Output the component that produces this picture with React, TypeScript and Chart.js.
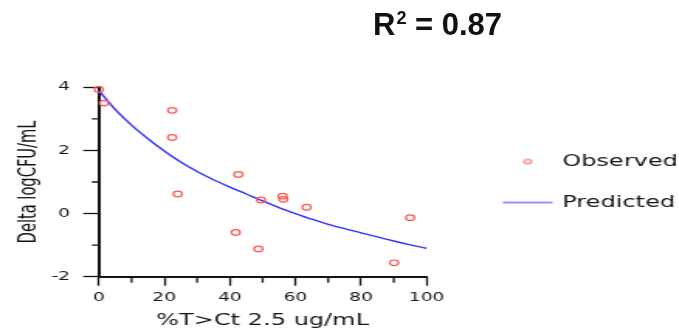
import React, { useEffect, useRef } from 'react';
import { Chart, registerables } from 'chart.js';

Chart.register(...registerables);

// ---- data ----
const obsX = [0, 1.6, 22.4, 22.4, 24.1, 41.8, 42.6, 48.7, 49.5, 56.1, 56.3, 63.4, 90.1, 95.0];
const obsY = [3.93, 3.5, 3.27, 2.41, 0.62, -0.6, 1.24, -1.12, 0.43, 0.55, 0.45, 0.2, -1.56, -0.13];

const predX = [0, 5, 10, 15, 20, 25, 30, 35, 40, 45, 50, 55, 60, 65, 70, 75, 80, 85, 90, 95, 100];
const predY = [3.9, 3.3, 2.8, 2.37, 1.98, 1.63, 1.33, 1.07, 0.84, 0.62, 0.4, 0.19, 0.0, -0.18, -0.34, -0.48, -0.61, -0.74, -0.87, -0.99, -1.1];

const seriesNames = ['Observed', 'Predicted'];
const xTitle = '%T>Ct 2.5 ug/mL';
const yTitle = 'Delta logCFU/mL';
const xMinorTicks = [10, 30, 50, 70, 90];
const yMinorTicks = [-1, 1, 3];

// ---- geometry ----
const SX = 1.55; // the reference is horizontally stretched
const W = 679;
const H = 336;
const CW = Math.round((W / SX) * 10) / 10;

const RED = 'rgb(255, 85, 85)';
const BLUE = 'rgb(50, 50, 255)';
const AXIS = '#151515';
const TEXT = '#151515';

const minorTicksPlugin = {
  id: 'minorTicks',
  afterDraw(chart: any) {
    const { ctx, scales } = chart;
    const x = scales.x;
    const y = scales.y;
    ctx.save();
    ctx.strokeStyle = AXIS;
    ctx.lineWidth = 1.3;
    ctx.beginPath();
    xMinorTicks.forEach((v) => {
      const px = x.getPixelForValue(v);
      ctx.moveTo(px, x.top);
      ctx.lineTo(px, x.top + 6);
    });
    yMinorTicks.forEach((v) => {
      const py = y.getPixelForValue(v);
      ctx.moveTo(y.right, py);
      ctx.lineTo(y.right - 4.5, py);
    });
    ctx.stroke();
    ctx.restore();
  },
};

function makeCircleIcon() {
  const c = document.createElement('canvas');
  c.width = 8;
  c.height = 8;
  const g = c.getContext('2d')!;
  g.strokeStyle = 'rgb(255, 110, 110)';
  g.lineWidth = 1.1;
  g.beginPath();
  g.arc(4, 4, 2.3, 0, Math.PI * 2);
  g.stroke();
  return c;
}

function makeLineIcon() {
  const c = document.createElement('canvas');
  c.width = 33;
  c.height = 6;
  const g = c.getContext('2d')!;
  g.strokeStyle = 'rgb(110, 110, 255)';
  g.lineWidth = 1.3;
  g.beginPath();
  g.moveTo(0.5, 3);
  g.lineTo(32.5, 3);
  g.stroke();
  return c;
}

export default function App() {
  const ref = useRef<HTMLCanvasElement>(null);

  useEffect(() => {
    if (!ref.current) return;
    const circleIcon = makeCircleIcon();
    const lineIcon = makeLineIcon();
    const tickFont = { family: '"DejaVu Sans", Verdana, sans-serif', size: 12 };

    const chart = new Chart(ref.current, {
      type: 'scatter',
      data: {
        datasets: [
          {
            label: seriesNames[0],
            data: obsX.map((x, i) => ({ x, y: obsY[i] })),
            pointStyle: 'circle',
            pointRadius: 2.8,
            pointBorderWidth: 1.2,
            borderColor: RED,
            backgroundColor: 'rgba(0,0,0,0)',
            showLine: false,
            clip: false,
          } as any,
          {
            label: seriesNames[1],
            data: predX.map((x, i) => ({ x, y: predY[i] })),
            showLine: true,
            pointRadius: 0,
            borderColor: BLUE,
            borderWidth: 1.4,
            cubicInterpolationMode: 'monotone',
            fill: false,
            clip: false,
          } as any,
        ],
      },
      options: {
        animation: false,
        responsive: false,
        devicePixelRatio: 1,
        layout: { padding: { top: 87.3, left: 0, right: 0, bottom: 0 } },
        scales: {
          x: {
            type: 'linear',
            position: 'bottom',
            min: 0,
            max: 100,
            ticks: { stepSize: 20, padding: 4.5, font: tickFont, color: TEXT, maxRotation: 0 },
            grid: { drawOnChartArea: false, drawTicks: true, tickLength: 9, tickColor: AXIS, tickWidth: 1.3 },
            border: { display: true, color: AXIS, width: 2 },
            title: {
              display: true,
              text: xTitle,
              color: TEXT,
              font: { family: '"DejaVu Sans", Verdana, sans-serif', size: 15.5 },
              padding: { top: 0, bottom: 5.5 },
            },
            afterFit: (s: any) => {
              s.height = H - 276.7;
            },
          },
          y: {
            type: 'linear',
            position: 'left',
            min: -2,
            max: 4,
            ticks: { stepSize: 2, padding: 8.5, font: tickFont, color: TEXT },
            grid: { drawOnChartArea: false, drawTicks: true, tickLength: 10, tickColor: AXIS, tickWidth: 1.3 },
            border: { display: true, color: AXIS, width: 2 },
            title: {
              display: true,
              text: yTitle,
              color: '#111',
              font: { family: '"Liberation Sans Narrow", "Arial Narrow", "DejaVu Sans Condensed", sans-serif', size: 16.3 },
              padding: { top: 8.5, bottom: 0 },
            },
            afterFit: (s: any) => {
              s.width = 63.7;
            },
          },
          gap: {
            type: 'linear',
            position: 'right',
            display: true,
            grid: { display: false },
            ticks: { display: false },
            border: { display: false },
            afterFit: (s: any) => {
              s.width = 25.3;
            },
          },
        } as any,
        plugins: {
          legend: {
            display: true,
            position: 'right',
            align: 'center',
            fullSize: false,
            maxWidth: CW - 300.6,
            labels: {
              usePointStyle: true,
              pointStyleWidth: 29,
              padding: 25.5,
              color: TEXT,
              font: { family: '"DejaVu Sans", Verdana, sans-serif', size: 15.5 },
              generateLabels: () => [
                {
                  text: seriesNames[0],
                  pointStyle: circleIcon,
                  fillStyle: 'rgba(0,0,0,0)',
                  strokeStyle: RED,
                  lineWidth: 1,
                  hidden: false,
                  datasetIndex: 0,
                  fontColor: TEXT,
                },
                {
                  text: seriesNames[1],
                  pointStyle: lineIcon,
                  fillStyle: 'rgba(0,0,0,0)',
                  strokeStyle: BLUE,
                  lineWidth: 1,
                  hidden: false,
                  datasetIndex: 1,
                  fontColor: TEXT,
                },
              ],
            },
          } as any,
          tooltip: { enabled: false },
          title: { display: false },
        },
      },
      plugins: [minorTicksPlugin],
    });
    return () => chart.destroy();
  }, []);

  return (
    <div style={{ position: 'absolute', left: 0, top: 0, width: W, height: H, overflow: 'hidden', background: '#fff' }}>
      <div
        style={{
          position: 'absolute',
          left: 0,
          top: 0,
          width: CW,
          height: H,
          transform: `scaleX(${SX})`,
          transformOrigin: '0 0',
        }}
      >
        <canvas ref={ref} width={CW} height={H} style={{ display: 'block' }} />
      </div>
      <div
        style={{
          position: 'absolute',
          left: 373,
          top: 9,
          font: 'bold 31px "Liberation Sans", Arial, sans-serif',
          lineHeight: '31px',
          color: '#111',
          whiteSpace: 'nowrap',
        }}
      >
        R
        <span style={{ fontSize: 18, position: 'relative', top: -11, marginLeft: 1 }}>2</span>
        {' = 0.87'}
      </div>
    </div>
  );
}
